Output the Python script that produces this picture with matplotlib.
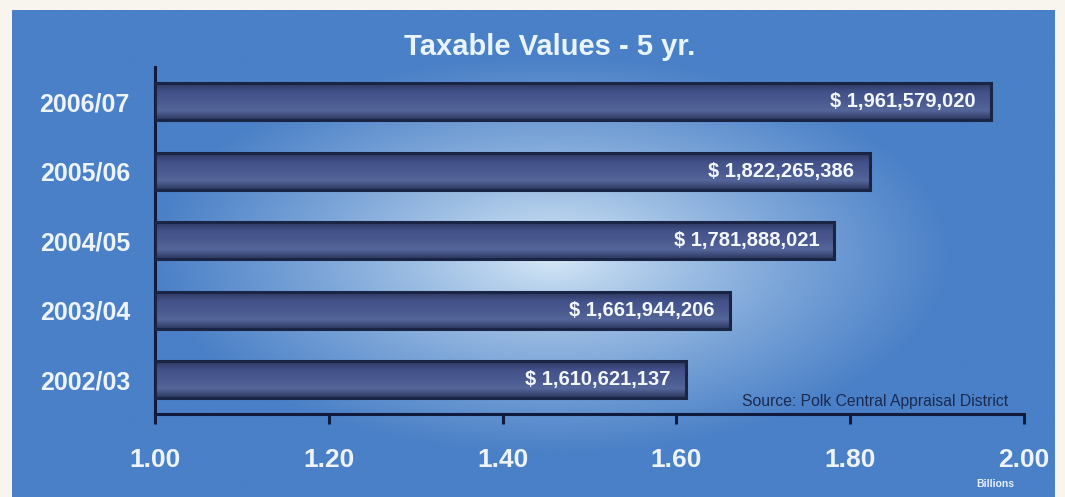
import numpy as np
import matplotlib
matplotlib.use("Agg")
import matplotlib.pyplot as plt
from matplotlib.colors import LinearSegmentedColormap

plt.rcParams['font.family'] = ['Liberation Sans', 'DejaVu Sans']

# Taxable values by fiscal year (dollars)
years = ["2002/03", "2003/04", "2004/05", "2005/06", "2006/07"]
values = [1610621137, 1661944206, 1781888021, 1822265386, 1961579020]
x_ticks = [1.00, 1.20, 1.40, 1.60, 1.80, 2.00]

W, H = 1065, 497
fig = plt.figure(figsize=(W / 100, H / 100), dpi=100, facecolor='#f7f5ee')

# Blue panel with a soft radial highlight
bg = fig.add_axes([12 / W, 0, 1043 / W, 487 / H])
bg.set_axis_off()
gx, gy = np.meshgrid(np.linspace(0, 1043, 400), np.linspace(0, 487, 200))
cx, cy = 540, 245
r = np.sqrt(((gx - cx) / 400) ** 2 + ((gy - cy) / 200) ** 2)
t = np.clip(r, 0, 1) ** 0.8
edge = np.array(matplotlib.colors.to_rgb('#4a80c7'))
centre = np.array(matplotlib.colors.to_rgb('#dcedf9'))
img = centre[None, None, :] * (1 - t[..., None]) + edge[None, None, :] * t[..., None]
bg.imshow(img, extent=[0, 1043, 487, 0], aspect='auto', interpolation='bilinear')
bg.set_xlim(0, 1043)
bg.set_ylim(487, 0)

ax = fig.add_axes([155 / W, (H - 414) / H, (1024 - 155) / W, (414 - 67) / H])
ax.patch.set_alpha(0)

billions = [v / 1e9 for v in values]
ypos = np.arange(len(years))
bar_h = 0.53
bars = ax.barh(ypos, [b - 1.0 for b in billions], left=1.0, height=bar_h,
               color='#46568c', edgecolor='#1a2546', linewidth=2.2, zorder=3)

# Shaded face for each bar
shade = LinearSegmentedColormap.from_list(
    'barshade', ['#2a365c', '#55669a', '#4a5a90', '#43528a', '#2e3a62'])
grad = np.linspace(0, 1, 64).reshape(-1, 1)
for rect in bars:
    x0, y0 = rect.get_x(), rect.get_y()
    w, h = rect.get_width(), rect.get_height()
    im = ax.imshow(grad, cmap=shade, aspect='auto',
                   extent=[x0, x0 + w, y0 + h, y0], zorder=3.5,
                   interpolation='bilinear')
    im.set_clip_path(rect)
    rect.set_facecolor('none')
    rect.set_zorder(4)

for y, b, v in zip(ypos, billions, values):
    ax.annotate(f"$ {v:,}", xy=(b, y), xytext=(-11, 0), textcoords='offset points',
                ha='right', va='center', color='#f3f7ff', fontsize=14.5,
                fontweight='bold', zorder=5)

ax.set_xlim(1.0, 2.0)
ax.set_ylim(-0.49, 4.5)
ax.set_xticks(x_ticks)
ax.set_xticklabels([f"{t:.2f}" for t in x_ticks])
ax.set_yticks(ypos)
ax.set_yticklabels(years)

for s in ['top', 'right']:
    ax.spines[s].set_visible(False)
for s in ['left', 'bottom']:
    ax.spines[s].set_color('#0f1a3c')
    ax.spines[s].set_linewidth(2.2)

ax.tick_params(axis='x', direction='out', length=7.5, width=2.2, color='#0f1a3c',
               pad=17, labelsize=19, labelcolor='#eef4ff')
ax.tick_params(axis='y', length=0, pad=18, labelsize=18, labelcolor='#eef4ff')
for lbl in ax.get_xticklabels() + ax.get_yticklabels():
    lbl.set_fontweight('bold')

fig.text(550 / W, (H - 55) / H, "Taxable Values - 5 yr.", ha='center', va='baseline',
         color='#e8f4ff', fontsize=21, fontweight='bold')
fig.text(1008 / W, (H - 406) / H, "Source: Polk Central Appraisal District",
         ha='right', va='baseline', color='#1a2a50', fontsize=11.3)
fig.text(995 / W, (H - 484) / H, "Billions", ha='center', va='center',
         color='#e8f0ff', fontsize=7.5, fontweight='bold')

fig.savefig("out.png", dpi=100, facecolor=fig.get_facecolor())
